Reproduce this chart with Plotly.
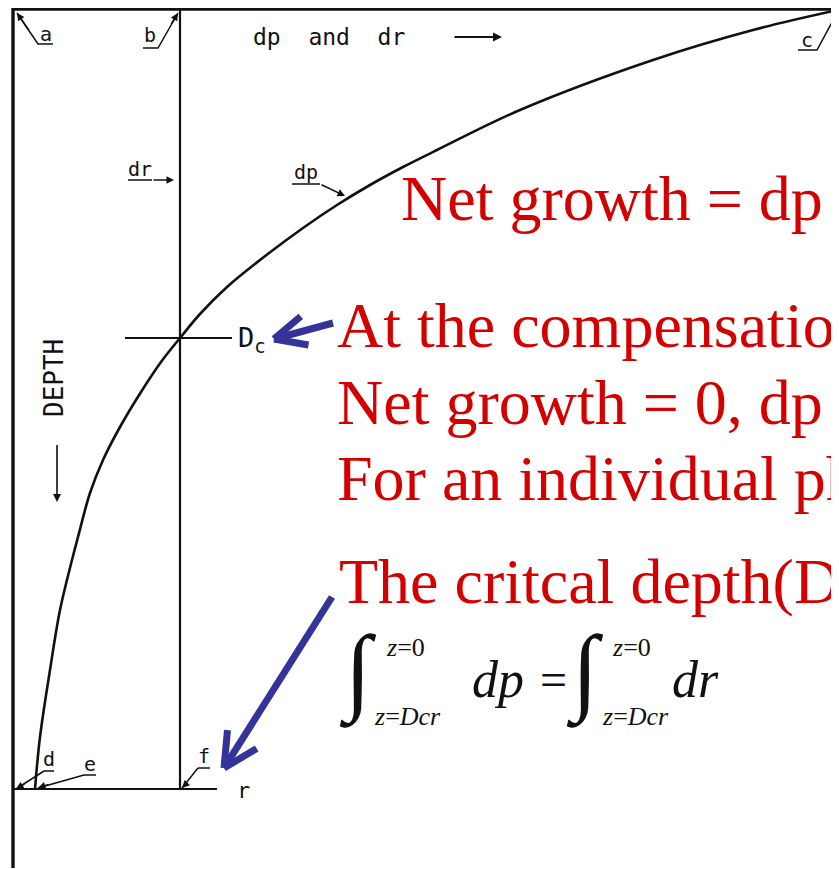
import math
import plotly.graph_objects as go

W, H = 839, 869
PAGE_OFFSET = 8  # default body margin of the html page

# ---------------- data (x = dp/dr, y = depth, depth increases downward) ----------
dp_x = [35, 40, 50, 60, 72, 78, 90, 103, 120, 141, 161, 180, 200, 227, 260, 303, 337, 370, 403, 437, 520, 653, 753, 838]
dp_depth = [789, 737, 670, 610, 560, 537, 493, 460, 427, 392, 362, 338, 314, 287, 260, 228, 205, 185, 167, 150, 110, 60, 30, 10]

dr_x = [180, 180]
dr_depth = [9, 789]

frame_x = [13, 13, 845]
frame_depth = [868, 9, 9]

dc_line_x = [125, 232]
dc_depth = 338
dcr_line_x = [13, 217]
dcr_depth = 789

red_lines = [
    "Net growth = dp \u2212 dr",
    "At the compensation depth (Dc),",
    "Net growth = 0, dp = dr",
    "For an individual phytoplankton",
    "The critcal depth(Dcr):",
]
red_x = [402, 338, 338, 338, 340]
red_baseline = [220, 347, 424, 500, 603]

# ---------------- figure ----------------
fig = go.Figure()
BLACK = "#111111"
RED = "#d40000"
BLUE = "#333399"

def line(xs, ys, w=2.0, color=BLACK, shape="linear"):
    fig.add_trace(go.Scatter(x=xs, y=ys, mode="lines",
                             line=dict(color=color, width=w, shape=shape, smoothing=1.0),
                             hoverinfo="skip", showlegend=False))

# frame, dr line, dp curve, Dc & Dcr lines
line(frame_x, frame_depth, 3.4)
line(dr_x, dr_depth, 2.2)
line(dp_x, dp_depth, 2.6, shape="spline")
line(dc_line_x, [dc_depth, dc_depth], 2.2)
line(dcr_line_x, [dcr_depth, dcr_depth], 2.0)

# leader lines for the lettered labels (underline + pointer)
leaders = [
    ([53, 38, 17], [44, 44, 13]),       # a
    ([143, 158, 178], [48, 48, 13]),    # b
    ([798, 817, 837], [50, 50, 13]),    # c
    ([44, 54], [771, 771]),             # d underline
    ([44, 16], [771, 789]),             # d pointer
    ([84, 96], [775, 775]),             # e underline
    ([84, 38], [775, 788]),             # e pointer
    ([198, 210], [768, 768]),           # f underline
    ([198, 182], [768, 788]),           # f pointer
    ([128, 152], [180, 180]),           # dr underline
    ([292, 320], [184, 184]),           # dp underline
]
for xs, ys in leaders:
    line(xs, ys, 1.5)

ann = []

def arrow(tip, tail, width=1.5, head=2, size=1.0, color=BLACK):
    ann.append(dict(x=tip[0], y=tip[1], ax=tail[0], ay=tail[1],
                    xref="x", yref="y", axref="x", ayref="y",
                    showarrow=True, arrowhead=head, arrowsize=size,
                    arrowwidth=width, arrowcolor=color, text=" ",
                    font=dict(size=1)))

# small black arrows
arrow((17, 13), (30, 32), 1.5, 2, 1.0)
arrow((178, 13), (170, 26), 1.5, 2, 1.0)
arrow((174, 180), (152, 180), 1.5, 2, 1.0)
arrow((345, 196), (320, 184), 1.5, 2, 1.0)
arrow((502, 37), (453, 37), 1.8, 2, 1.0)
arrow((57, 502), (57, 443), 1.6, 2, 1.0)
arrow((16, 789), (26, 783), 1.5, 2, 1.0)
arrow((38, 788), (50, 784), 1.5, 2, 1.0)
arrow((182, 788), (188, 782), 1.5, 2, 1.0)

# blue chevron arrows (drawn as thick lines)
def blue_arrow(tip, tail, arm=36, ang=26, w=7):
    line([tail[0], tip[0]], [tail[1], tip[1]], w, BLUE)
    a0 = math.atan2(tail[1] - tip[1], tail[0] - tip[0])
    for s in (-1, 1):
        a = a0 + s * math.radians(ang)
        line([tip[0], tip[0] + arm * math.cos(a)], [tip[1], tip[1] + arm * math.sin(a)], w, BLUE)

blue_arrow((274, 339), (333, 323), arm=35, ang=25, w=7)
blue_arrow((224, 768), (332, 597), arm=38, ang=27, w=7)

def text(x, y, t, size, font="DejaVu Sans Mono", color=BLACK, xa="left", ya="middle", angle=0):
    ann.append(dict(x=x, y=y, xref="x", yref="y", text=t, showarrow=False,
                    xanchor=xa, yanchor=ya, textangle=angle,
                    font=dict(family=font, size=size, color=color)))

# diagram lettering
text(251, 37, "dp  and  dr", 23)
text(54, 378, "DEPTH", 26, xa="center", angle=-90)
text(236, 339, "D<sub>c</sub>", 27)
text(46, 34, "a", 20, xa="center")
text(150, 35, "b", 20, xa="center")
text(807, 40, "c", 20, xa="center")
text(49, 759, "d", 20, xa="center")
text(90, 764, "e", 20, xa="center")
text(204, 756, "f", 20, xa="center")
text(243, 790, "r", 22, xa="center")
text(140, 169, "dr", 20, xa="center")
text(306, 172, "dp", 20, xa="center")

# red explanatory text
for t, x, b in zip(red_lines, red_x, red_baseline):
    text(x - 3, b - 22, t, 64, font="Liberation Serif", color=RED)

# integral equation
SERIF = "Liberation Serif"
text(358, 672, "\u222B", 96, font=SERIF, xa="center")
text(384, 647, "<i>z</i>=0", 26, font=SERIF)
text(372, 716, "<i>z</i>=<i>Dcr</i>", 26, font=SERIF)
text(470, 679, "<i>dp</i>", 52, font=SERIF)
text(553, 679, "=", 48, font=SERIF, xa="center")
text(585, 672, "\u222B", 96, font=SERIF, xa="center")
text(610, 647, "<i>z</i>=0", 26, font=SERIF)
text(600, 716, "<i>z</i>=<i>Dcr</i>", 26, font=SERIF)
text(670, 679, "<i>dr</i>", 52, font=SERIF)

fig.update_layout(
    width=W, height=H,
    margin=dict(l=0, r=0, t=0, b=0),
    paper_bgcolor="white", plot_bgcolor="white",
    xaxis=dict(range=[PAGE_OFFSET, W + PAGE_OFFSET], visible=False, fixedrange=True),
    yaxis=dict(range=[H + PAGE_OFFSET, PAGE_OFFSET], visible=False, fixedrange=True),
    annotations=ann,
    showlegend=False,
)

fig.write_html("out.html")
